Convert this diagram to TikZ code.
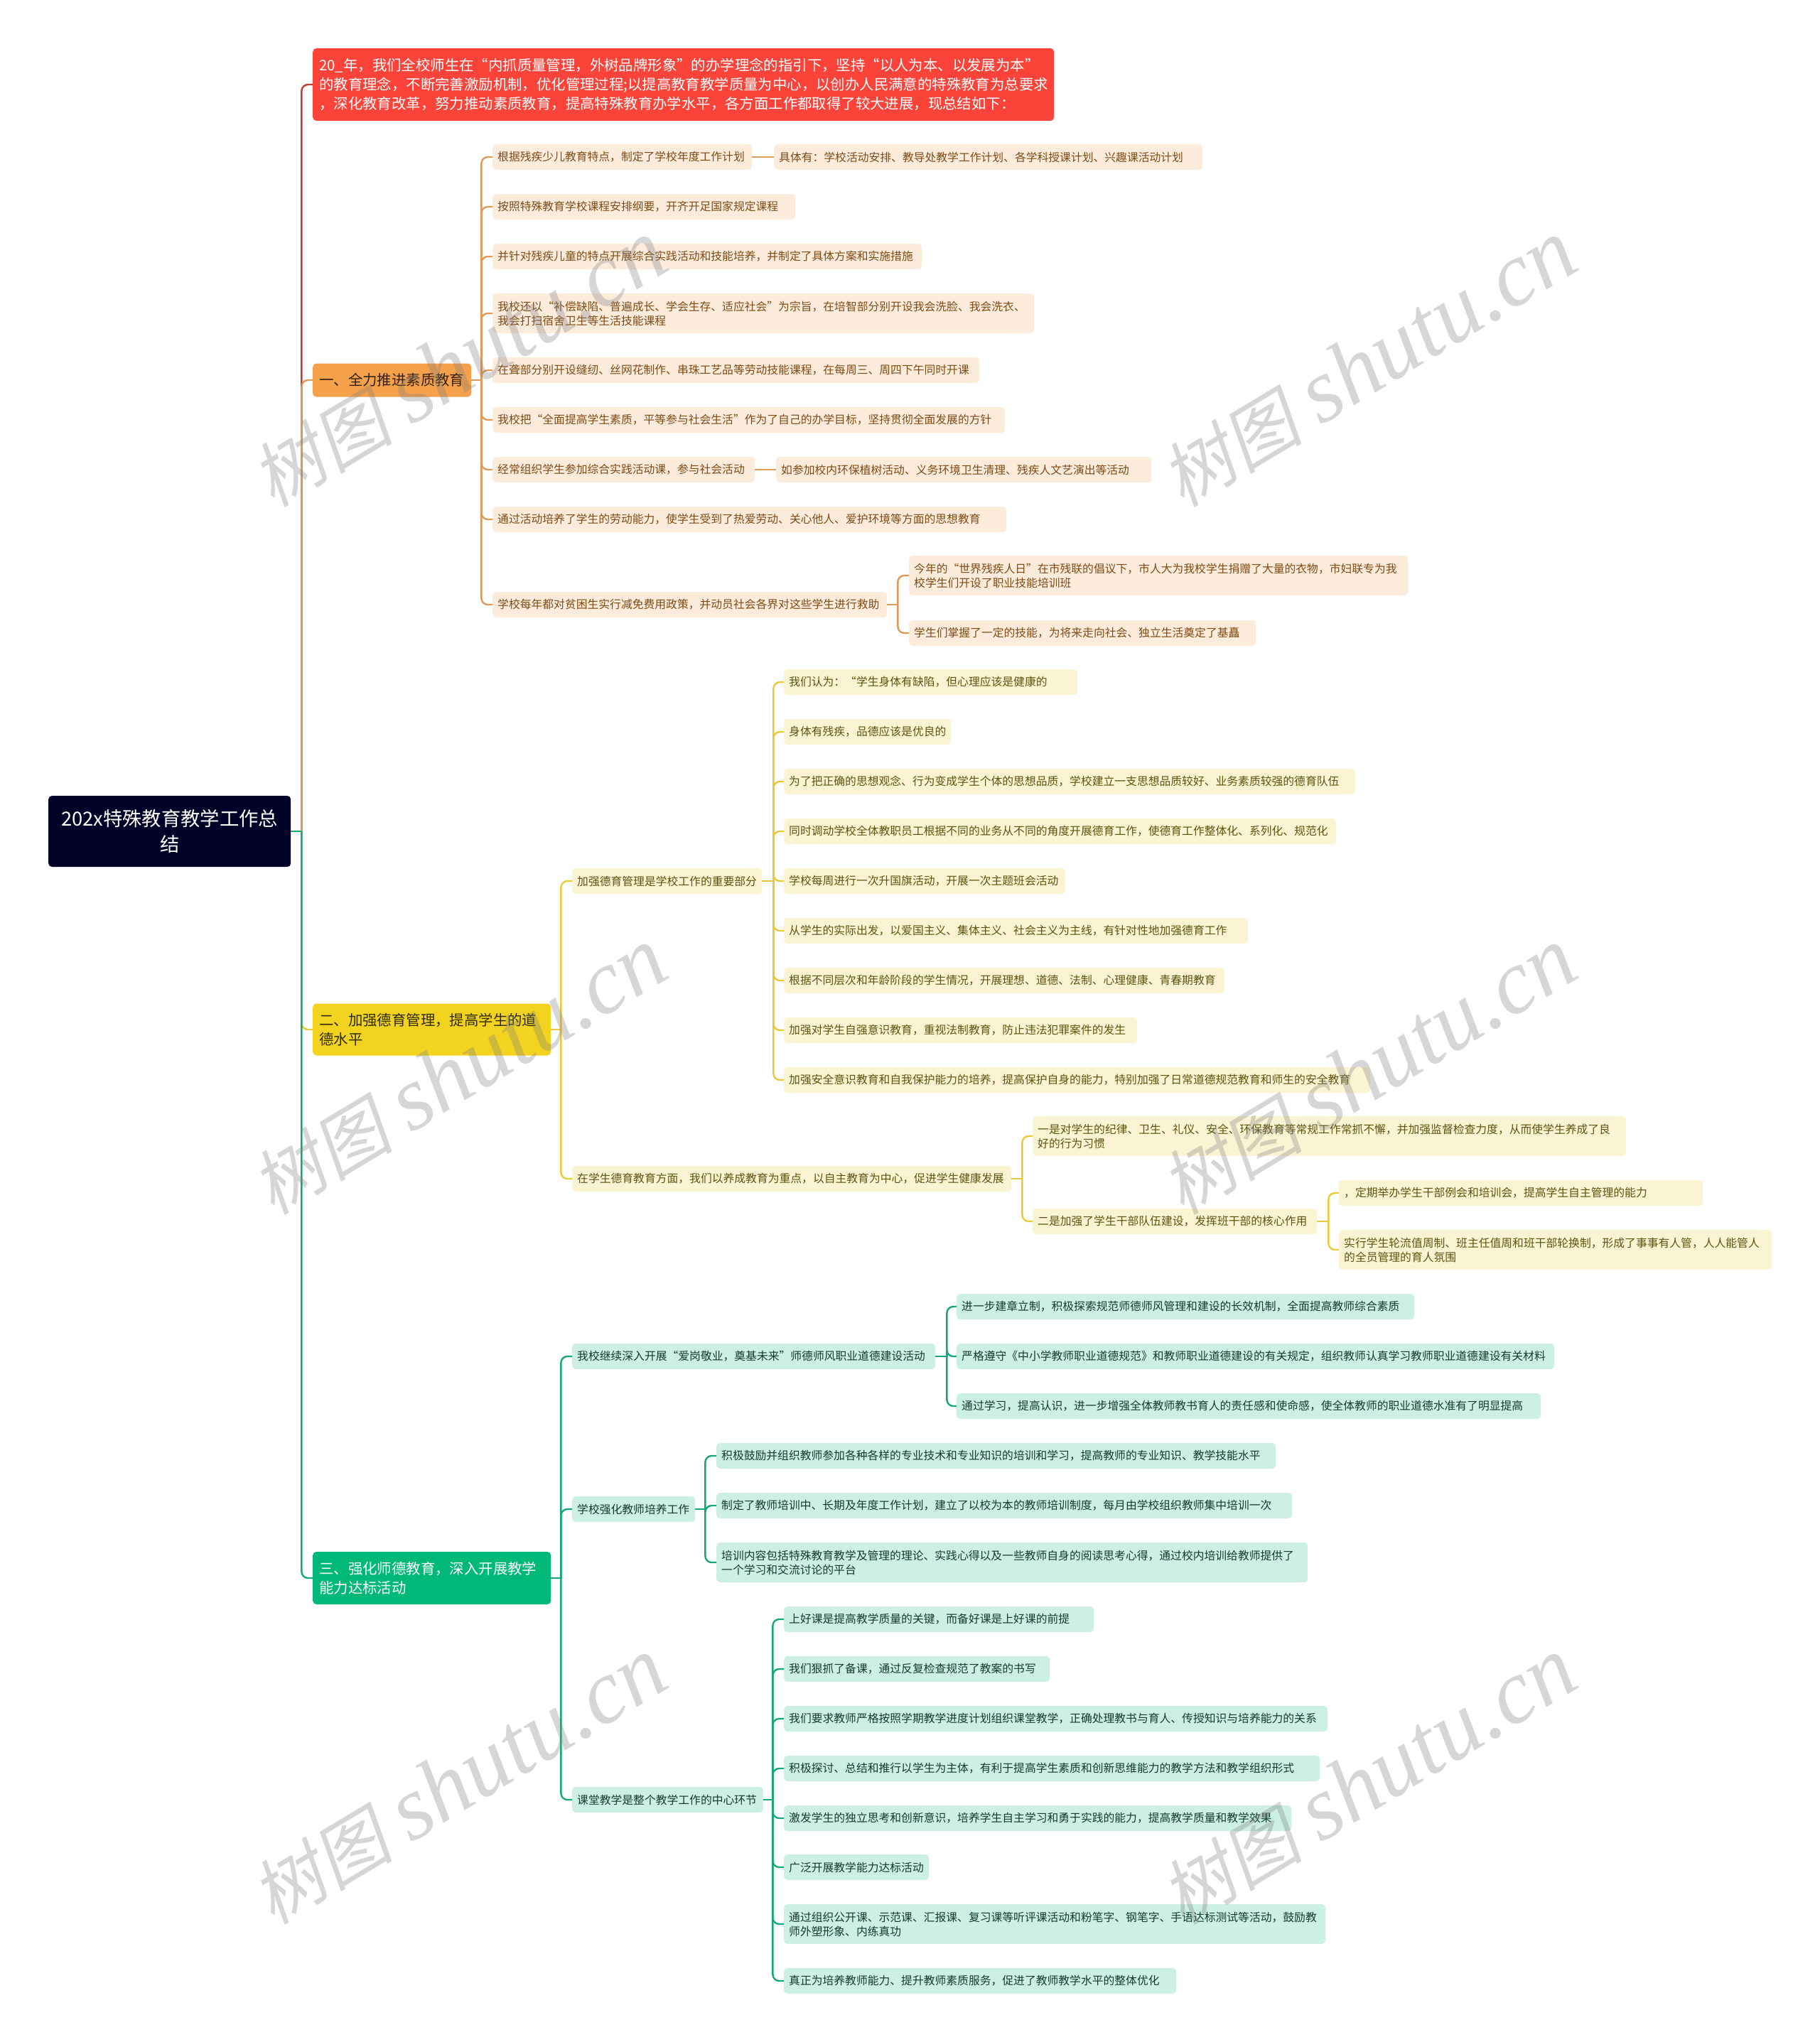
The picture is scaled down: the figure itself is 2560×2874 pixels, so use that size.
\documentclass[tikz,border=0pt]{standalone}
\usepackage{fontspec}
\setmainfont{Noto Sans CJK SC}
\newfontfamily\wmcjk[FakeSlant=0.2]{Noto Sans CJK SC}
\newfontfamily\wmlat{Liberation Serif}
\definecolor{rootc}{HTML}{020228}
\definecolor{redc}{HTML}{FB433A}
\definecolor{redl}{HTML}{C43C30}
\definecolor{orgc}{HTML}{F5A04A}
\definecolor{orgl}{HTML}{DD9A58}
\definecolor{orgb}{HTML}{FDECDC}
\definecolor{orgt}{HTML}{7F4A14}
\definecolor{yelc}{HTML}{F2D31F}
\definecolor{yell}{HTML}{E8CB38}
\definecolor{yelb}{HTML}{FBF4D2}
\definecolor{yelt}{HTML}{5E5310}
\definecolor{grnc}{HTML}{00B978}
\definecolor{grnl}{HTML}{16A878}
\definecolor{grnb}{HTML}{CCF1E3}
\definecolor{grnt}{HTML}{133C2E}
\tikzset{
  box/.style={anchor=west,rounded corners=5pt,inner ysep=0pt,align=left},
  w/.style={text width=#1pt-14pt},
  leafo/.style={box,fill=orgb,text=orgt,inner xsep=7pt,minimum height=36pt,font=\fontsize{15.8}{20}\selectfont},
  leafy/.style={leafo,fill=yelb,text=yelt},
  leafg/.style={leafo,fill=grnb,text=grnt},
  topic/.style={box,inner xsep=9pt,font=\fontsize{20.4}{27}\selectfont},
  rline/.style={line width=2.4pt,redl},
  oline/.style={line width=2.4pt,orgl,rounded corners=9pt},
  yline/.style={line width=2.4pt,yell,rounded corners=9pt},
  gline/.style={line width=2.4pt,grnl,rounded corners=9pt},
  wm/.style={rotate=31,text=gray,text opacity=.32},
}
\begin{document}
\begin{tikzpicture}[x=1pt,y=-1pt]
    \useasboundingbox(0,0)rectangle(2560,2874);
    \node[box,fill=rootc,text=white,text width=341pt,inner xsep=0pt,minimum height=100pt,align=center,font=\fontsize{27.3}{36}\selectfont](root)at(68,1170){202x特殊教育教学工作总\\结};
    \node[topic,fill=redc,text=white,text width=1025pt,minimum height=102pt](red)at(440,119){20\_年，我们全校师生在“内抓质量管理，外树品牌形象”的办学理念的指引下，坚持“以人为本、以发展为本”\\的教育理念，不断完善激励机制，优化管理过程;以提高教育教学质量为中心，以创办人民满意的特殊教育为总要求\\，深化教育改革，努力推动素质教育，提高特殊教育办学水平，各方面工作都取得了较大进展，现总结如下：};
    \node[topic,fill=orgc,text=black!80!orgc,text width=205pt,minimum height=47pt](o)at(440,535){一、全力推进素质教育};
    \node[topic,fill=yelc,text=black!80!yelc,text width=317pt,minimum height=73pt](y)at(440,1449){二、加强德育管理，提高学生的道\\德水平};
    \node[topic,fill=grnc,text=white,text width=317pt,minimum height=74pt](g)at(440,2221){三、强化师德教育，深入开展教学\\能力达标活动};

    \node[leafo,w=365](o1)at(693,221){根据残疾少儿教育特点，制定了学校年度工作计划};
    \node[leafo,w=603](o1a)at(1089,221){具体有：学校活动安排、教导处教学工作计划、各学科授课计划、兴趣课活动计划};
    \node[leafo,w=426](o2)at(693,291){按照特殊教育学校课程安排纲要，开齐开足国家规定课程};
    \node[leafo,w=604](o3)at(693,361){并针对残疾儿童的特点开展综合实践活动和技能培养，并制定了具体方案和实施措施};
    \node[leafo,w=762,minimum height=56pt](o4)at(693,441){我校还以“补偿缺陷、普遍成长、学会生存、适应社会”为宗旨，在培智部分别开设我会洗脸、我会洗衣、\\我会打扫宿舍卫生等生活技能课程};
    \node[leafo,w=685](o5)at(693,521){在聋部分别开设缝纫、丝网花制作、串珠工艺品等劳动技能课程，在每周三、周四下午同时开课};
    \node[leafo,w=721](o6)at(693,591){我校把“全面提高学生素质，平等参与社会生活”作为了自己的办学目标，坚持贯彻全面发展的方针};
    \node[leafo,w=369](o7)at(693,661){经常组织学生参加综合实践活动课，参与社会活动};
    \node[leafo,w=528](o7a)at(1092,661){如参加校内环保植树活动、义务环境卫生清理、残疾人文艺演出等活动};
    \node[leafo,w=723](o8)at(693,731){通过活动培养了学生的劳动能力，使学生受到了热爱劳动、关心他人、爱护环境等方面的思想教育};
    \node[leafo,w=555](o9)at(693,851){学校每年都对贫困生实行减免费用政策，并动员社会各界对这些学生进行救助};
    \node[leafo,w=702,minimum height=56pt](o9a)at(1279,810){今年的“世界残疾人日”在市残联的倡议下，市人大为我校学生捐赠了大量的衣物，市妇联专为我\\校学生们开设了职业技能培训班};
    \node[leafo,w=488](o9b)at(1279,891){学生们掌握了一定的技能，为将来走向社会、独立生活奠定了基矗};

    \node[leafy,w=267](y1)at(805,1240){加强德育管理是学校工作的重要部分};
    \node[leafy,w=413](y1a)at(1103,960){我们认为：“学生身体有缺陷，但心理应该是健康的};
    \node[leafy,w=235](y1b)at(1103,1030){身体有残疾，品德应该是优良的};
    \node[leafy,w=804](y1c)at(1103,1100){为了把正确的思想观念、行为变成学生个体的思想品质，学校建立一支思想品质较好、业务素质较强的德育队伍};
    \node[leafy,w=777](y1d)at(1103,1170){同时调动学校全体教职员工根据不同的业务从不同的角度开展德育工作，使德育工作整体化、系列化、规范化};
    \node[leafy,w=396](y1e)at(1103,1240){学校每周进行一次升国旗活动，开展一次主题班会活动};
    \node[leafy,w=653](y1f)at(1103,1310){从学生的实际出发，以爱国主义、集体主义、社会主义为主线，有针对性地加强德育工作};
    \node[leafy,w=620](y1g)at(1103,1380){根据不同层次和年龄阶段的学生情况，开展理想、道德、法制、心理健康、青春期教育};
    \node[leafy,w=497](y1h)at(1103,1450){加强对学生自强意识教育，重视法制教育，防止违法犯罪案件的发生};
    \node[leafy,w=825](y1i)at(1103,1520){加强安全意识教育和自我保护能力的培养，提高保护自身的能力，特别加强了日常道德规范教育和师生的安全教育};
    \node[leafy,w=618](y2)at(805,1659){在学生德育教育方面，我们以养成教育为重点，以自主教育为中心，促进学生健康发展};
    \node[leafy,w=835,minimum height=56pt](y2a)at(1453,1599){一是对学生的纪律、卫生、礼仪、安全、环保教育等常规工作常抓不懈，并加强监督检查力度，从而使学生养成了良\\好的行为习惯};
    \node[leafy,w=400](y2b)at(1453,1719){二是加强了学生干部队伍建设，发挥班干部的核心作用};
    \node[leafy,w=512](y2b1)at(1884,1679){，定期举办学生干部例会和培训会，提高学生自主管理的能力};
    \node[leafy,w=609,minimum height=56pt](y2b2)at(1884,1759){实行学生轮流值周制、班主任值周和班干部轮换制，形成了事事有人管，人人能管人\\的全员管理的育人氛围};

    \node[leafg,w=511](g1)at(805,1909){我校继续深入开展“爱岗敬业，奠基未来”师德师风职业道德建设活动};
    \node[leafg,w=644](g1a)at(1346,1839){进一步建章立制，积极探索规范师德师风管理和建设的长效机制，全面提高教师综合素质};
    \node[leafg,w=841](g1b)at(1346,1909){严格遵守《中小学教师职业道德规范》和教师职业道德建设的有关规定，组织教师认真学习教师职业道德建设有关材料};
    \node[leafg,w=822](g1c)at(1346,1979){通过学习，提高认识，进一步增强全体教师教书育人的责任感和使命感，使全体教师的职业道德水准有了明显提高};
    \node[leafg,w=173](g2)at(805,2124){学校强化教师培养工作};
    \node[leafg,w=787](g2a)at(1008,2049){积极鼓励并组织教师参加各种各样的专业技术和专业知识的培训和学习，提高教师的专业知识、教学技能水平};
    \node[leafg,w=810](g2b)at(1008,2119){制定了教师培训中、长期及年度工作计划，建立了以校为本的教师培训制度，每月由学校组织教师集中培训一次};
    \node[leafg,w=832,minimum height=56pt](g2c)at(1008,2199){培训内容包括特殊教育教学及管理的理论、实践心得以及一些教师自身的阅读思考心得，通过校内培训给教师提供了\\一个学习和交流讨论的平台};
    \node[leafg,w=269](g3)at(805,2533){课堂教学是整个教学工作的中心环节};
    \node[leafg,w=436](g3a)at(1103,2279){上好课是提高教学质量的关键，而备好课是上好课的前提};
    \node[leafg,w=374](g3b)at(1103,2349){我们狠抓了备课，通过反复检查规范了教案的书写};
    \node[leafg,w=765](g3c)at(1103,2419){我们要求教师严格按照学期教学进度计划组织课堂教学，正确处理教书与育人、传授知识与培养能力的关系};
    \node[leafg,w=754](g3d)at(1103,2489){积极探讨、总结和推行以学生为主体，有利于提高学生素质和创新思维能力的教学方法和教学组织形式};
    \node[leafg,w=714](g3e)at(1103,2559){激发学生的独立思考和创新意识，培养学生自主学习和勇于实践的能力，提高教学质量和教学效果};
    \node[leafg,w=204](g3f)at(1103,2628){广泛开展教学能力达标活动};
    \node[leafg,w=762,minimum height=56pt](g3g)at(1103,2708){通过组织公开课、示范课、汇报课、复习课等听评课活动和粉笔字、钢笔字、手语达标测试等活动，鼓励教\\师外塑形象、内练真功};
    \node[leafg,w=552](g3h)at(1103,2788){真正为培养教师能力、提升教师素质服务，促进了教师教学水平的整体优化};

    \path(root.east)++(15,0)coordinate(rbus);
    \draw[rline,rounded corners=9pt](rbus)|-(red.west);
    \draw[oline](rbus)|-(o.west);
    \draw[yline](rbus)|-(y.west);
    \draw[gline](rbus)|-(g.west);
    \draw[gline](root.east)--(rbus);

    \draw[oline](o.east)--++(14,0)coordinate(obus);
    \foreach \n in {o1,o2,o3,o4,o5,o6,o7,o8,o9} \draw[oline](obus)|-(\n.west);
    \draw[oline](o1.east)--(o1a.west);
    \draw[oline](o7.east)--(o7a.west);
    \draw[oline](o9.east)--++(15,0)coordinate(o9bus);
    \foreach \n in {o9a,o9b} \draw[oline](o9bus)|-(\n.west);

    \draw[yline](y.east)--++(14,0)coordinate(ybus);
    \foreach \n in {y1,y2} \draw[yline](ybus)|-(\n.west);
    \draw[yline](y1.east)--++(16,0)coordinate(y1bus);
    \foreach \n in {y1a,y1b,y1c,y1d,y1e,y1f,y1g,y1h,y1i} \draw[yline](y1bus)|-(\n.west);
    \draw[yline](y2.east)--++(15,0)coordinate(y2bus);
    \foreach \n in {y2a,y2b} \draw[yline](y2bus)|-(\n.west);
    \draw[yline](y2b.east)--++(16,0)coordinate(y2bbus);
    \foreach \n in {y2b1,y2b2} \draw[yline](y2bbus)|-(\n.west);

    \draw[gline](g.east)--++(14,0)coordinate(gbus);
    \foreach \n in {g1,g2,g3} \draw[gline](gbus)|-(\n.west);
    \draw[gline](g1.east)--++(16,0)coordinate(g1bus);
    \foreach \n in {g1a,g1b,g1c} \draw[gline](g1bus)|-(\n.west);
    \draw[gline](g2.east)--++(14,0)coordinate(g2bus);
    \foreach \n in {g2a,g2b,g2c} \draw[gline](g2bus)|-(\n.west);
    \draw[gline](g3.east)--++(13,0)coordinate(g3bus);
    \foreach \n in {g3a,g3b,g3c,g3d,g3e,g3f,g3g,g3h} \draw[gline](g3bus)|-(\n.west);

    \foreach \x/\y/\k in {645/512/a,1925/512/b,645/1508/c,1925/1508/d,645/2507/e,1925/2507/f}
        \node[wm](wm\k)at(\x,\y){{\fontsize{100}{100}\selectfont\wmcjk 树图}\hspace{26pt}{\fontsize{128}{128}\selectfont\wmlat\itshape shutu.cn}};
\end{tikzpicture}
\end{document}
